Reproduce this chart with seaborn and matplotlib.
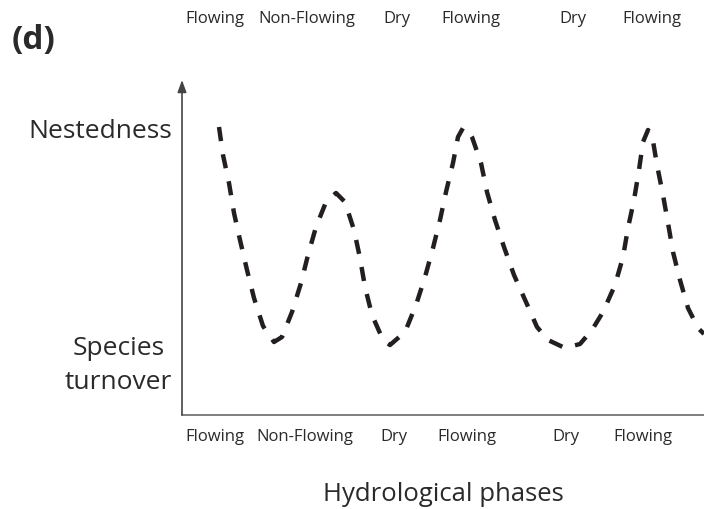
import matplotlib
matplotlib.use("Agg")
import matplotlib.pyplot as plt
import seaborn as sns
import pandas as pd

# Conceptual trajectory of beta-diversity along hydrological phases
phase_x = [3.7, 4.1, 4.7, 5.2, 5.8, 6.5, 7.2, 8.1, 9.2, 10.0, 11.0, 11.9, 12.6,
           13.4, 14.4, 15.4, 16.3, 17.2, 17.8, 18.3, 19.0, 20.1, 20.8, 22.3,
           23.4, 24.3, 25.1, 25.8, 26.4, 27.1, 27.6, 28.1, 28.6, 29.0, 29.9,
           30.5, 31.3, 32.2, 33.2, 34.4, 35.5, 36.6, 38.3, 39.8, 41.0, 42.1,
           43.3, 44.1, 44.6, 45.2, 45.7, 46.1, 46.6, 47.0, 47.5, 48.1, 48.6,
           49.1, 49.8, 50.6, 51.6, 52.2]
beta_component = [28.8, 26.0, 23.2, 20.2, 17.5, 14.5, 11.7, 8.9, 7.3, 7.8, 10.3,
                  13.2, 16.0, 18.8, 21.3, 22.2, 21.3, 18.5, 15.7, 12.8, 10.0,
                  7.5, 7.0, 8.3, 11.0, 13.8, 16.7, 19.5, 22.3, 25.2, 27.8, 28.7,
                  28.5, 27.8, 25.2, 22.3, 19.5, 16.8, 14.0, 11.3, 8.8, 7.5, 6.7,
                  7.1, 8.5, 10.3, 13.0, 15.8, 18.7, 21.5, 24.5, 27.3, 28.5, 28.0,
                  25.0, 22.0, 19.2, 16.3, 13.5, 10.7, 8.7, 8.1]

bottom_phases = ["Flowing", "Non-Flowing", "Dry", "Flowing", "Dry", "Flowing"]
bottom_pos = [3.3, 12.3, 21.2, 28.5, 38.4, 46.1]
top_phases = ["Flowing", "Non-Flowing", "Dry", "Flowing", "Dry", "Flowing"]
top_pos = [3.3, 12.5, 21.5, 28.9, 39.1, 47.0]
y_labels = ["Species\nturnover", "Nestedness"]
y_pos = [5.7, 28.7]

sns.set_theme(style="white")
plt.rcParams["font.family"] = ["Open Sans", "DejaVu Sans"]

TXT = "#2a2a2a"
AX = "#6a6a6a"

fig = plt.figure(figsize=(7.04, 5.09), dpi=100)
ax = fig.add_axes([182 / 704, 94 / 509, 522 / 704, 335 / 509])

df = pd.DataFrame({"phase": phase_x, "beta": beta_component})
sns.lineplot(data=df, x="phase", y="beta", ax=ax, sort=False, estimator=None,
             color="#231f20", linewidth=3.2, linestyle=(0, (3.2, 3.0)),
             dash_capstyle="butt")

ax.set_xlim(0, 52.2)
ax.set_ylim(0, 33.5)

for s in ["top", "right", "left"]:
    ax.spines[s].set_visible(False)
ax.spines["bottom"].set_color(AX)
ax.spines["bottom"].set_linewidth(1.2)

# vertical axis with arrow head
ax.annotate("", xy=(0, 1.0), xytext=(0, 0), xycoords="axes fraction",
            arrowprops=dict(arrowstyle="-|>,head_length=0.6,head_width=0.22",
                            color="#444444", lw=1.2, shrinkA=0, shrinkB=0))

ax.set_xticks(bottom_pos)
ax.set_xticklabels(bottom_phases)
ax.tick_params(axis="x", length=0, pad=10, labelsize=12, labelcolor=TXT)

ax.set_yticks(y_pos)
ax.set_yticklabels(y_labels, linespacing=1.45)
ax.tick_params(axis="y", length=0, pad=7, labelsize=19, labelcolor=TXT)
for lab in ax.get_yticklabels():
    lab.set_multialignment("center")

top = ax.secondary_xaxis("top")
top.set_xticks(top_pos)
top.set_xticklabels(top_phases)
top.tick_params(length=0, pad=38, labelsize=12, labelcolor=TXT)
top.spines["top"].set_visible(False)

ax.set_xlabel("Hydrological phases", fontsize=18.5, color=TXT, labelpad=27)
ax.set_ylabel("")

fig.text(12 / 704, 1 - 40 / 509, "(d)", fontsize=24, fontweight="bold",
         color=TXT, va="center", ha="left")

fig.savefig("out.png", dpi=100)
